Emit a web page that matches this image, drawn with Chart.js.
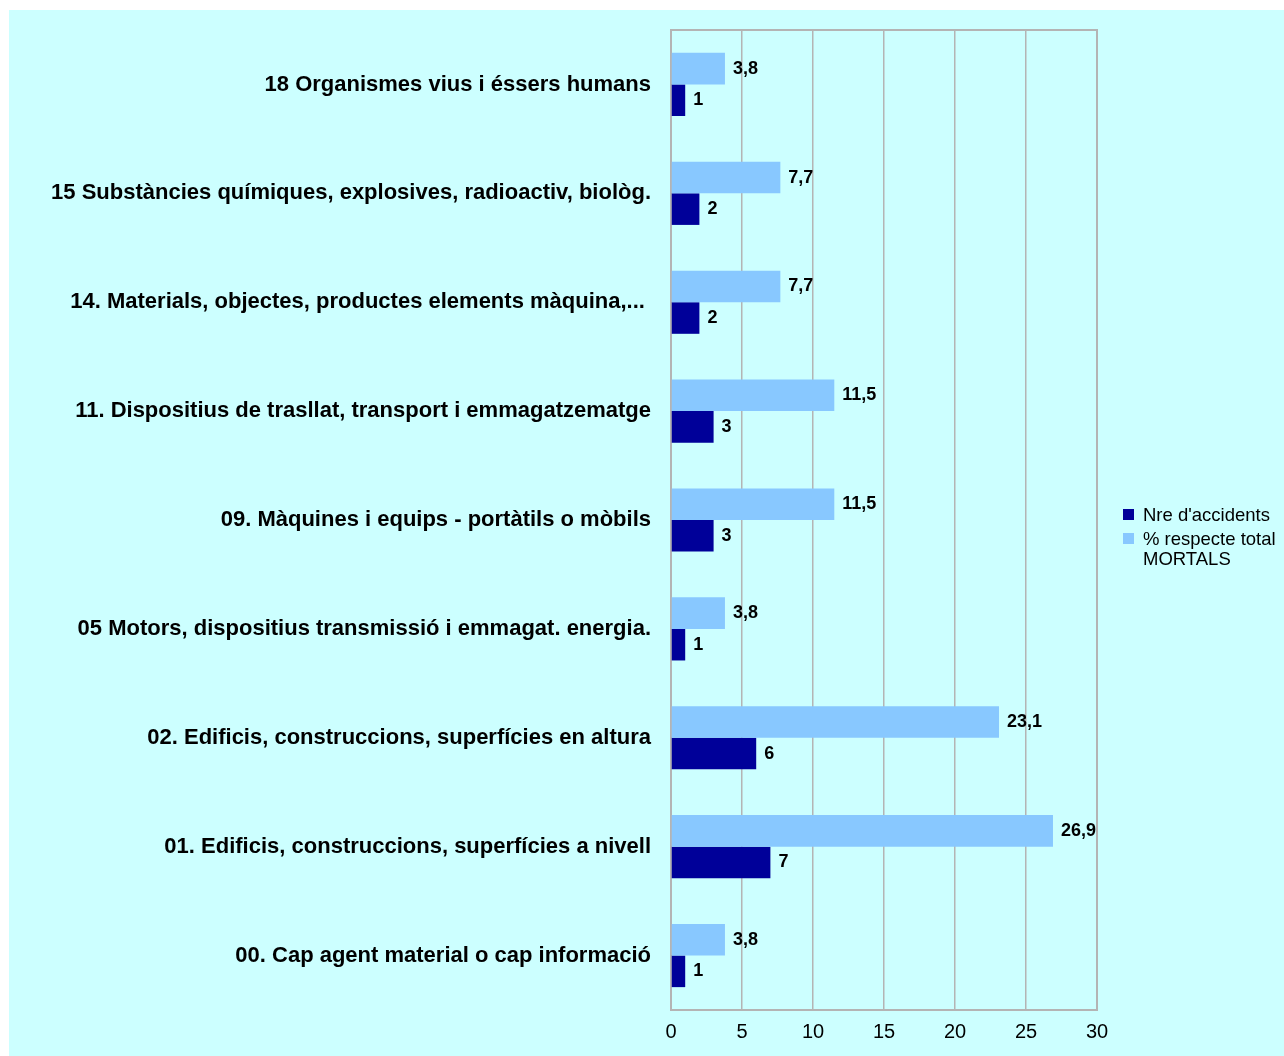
<!DOCTYPE html>
<html lang="ca">
<head>
    <meta charset="UTF-8">
    <title>Accidents mortals per agent material</title>
    <script src="https://cdn.jsdelivr.net/npm/chart.js@4/dist/chart.umd.min.js"></script>
    <style>
        body {
            margin: 0;
            background: #ffffff;
            font-family: 'Liberation Sans', Arial, sans-serif;
        }
        .panel {
            position: absolute;
            left: 9px;
            top: 10px;
            width: 1275px;
            height: 1046px;
            background: #ccffff;
        }
        .legend {
            position: absolute;
            left: 1114px;
            top: 495px;
            font-size: 18.5px;
            line-height: 20px;
            color: #000;
        }
        .legend-item {
            display: flex;
            align-items: flex-start;
            margin-bottom: 4px;
        }
        .legend-box {
            width: 11px;
            height: 11px;
            margin: 4px 9px 0 0;
            flex: none;
        }
        .legend-text {
            width: 140px;
        }
    </style>
</head>
<body>
    <div class="panel">
        <canvas id="chart"></canvas>
        <div class="legend" id="legend"></div>
    </div>

    <script>
        const categories = [
            '18 Organismes vius i éssers humans',
            '15 Substàncies químiques, explosives, radioactiv, biològ.',
            '14. Materials, objectes, productes elements màquina,... ',
            '11. Dispositius de trasllat, transport i emmagatzematge',
            '09. Màquines i equips - portàtils o mòbils',
            '05 Motors, dispositius transmissió i emmagat. energia.',
            '02. Edificis, construccions, superfícies en altura',
            '01. Edificis, construccions, superfícies a nivell',
            '00. Cap agent material o cap informació'
        ];
        const nreAccidents = [1, 2, 2, 3, 3, 1, 6, 7, 1];
        const pctMortals = [3.8, 7.7, 7.7, 11.5, 11.5, 3.8, 23.1, 26.9, 3.8];
        const xTicks = [0, 5, 10, 15, 20, 25, 30];

        const FONT = "'Liberation Sans', Arial, sans-serif";

        // value labels next to each bar, decimal comma
        const valueLabels = {
            id: 'valueLabels',
            afterDatasetsDraw(chart) {
                const ctx = chart.ctx;
                ctx.save();
                ctx.font = 'bold 18px ' + FONT;
                ctx.fillStyle = '#000';
                ctx.textAlign = 'left';
                ctx.textBaseline = 'middle';
                chart.data.datasets.forEach((ds, i) => {
                    chart.getDatasetMeta(i).data.forEach((bar, j) => {
                        const txt = String(ds.data[j]).replace('.', ',');
                        ctx.fillText(txt, bar.x + 8, bar.y);
                    });
                });
                ctx.restore();
            }
        };

        // grey frame round the plot area
        const plotFrame = {
            id: 'plotFrame',
            beforeDatasetsDraw(chart) {
                const a = chart.chartArea;
                const ctx = chart.ctx;
                ctx.save();
                ctx.strokeStyle = '#b4b4b4';
                ctx.lineWidth = 2;
                ctx.strokeRect(a.left, a.top, a.right - a.left, a.bottom - a.top);
                ctx.restore();
            }
        };

        const datasets = [
            {
                label: '% respecte total MORTALS',
                data: pctMortals,
                backgroundColor: '#88c8ff'
            },
            {
                label: "Nre d'accidents",
                data: nreAccidents,
                backgroundColor: '#000099'
            }
        ];

        new Chart(document.getElementById('chart'), {
            type: 'bar',
            data: { labels: categories, datasets: datasets },
            plugins: [plotFrame, valueLabels],
            options: {
                indexAxis: 'y',
                responsive: true,
                maintainAspectRatio: false,
                animation: false,
                layout: { padding: { top: 20, right: 187, bottom: 0, left: 0 } },
                datasets: {
                    bar: { categoryPercentage: 0.58, barPercentage: 1.0 }
                },
                plugins: {
                    legend: { display: false },
                    tooltip: { enabled: false }
                },
                scales: {
                    x: {
                        min: 0,
                        max: 30,
                        afterBuildTicks: scale => {
                            scale.ticks = xTicks.map(v => ({ value: v }));
                        },
                        afterFit: scale => {
                            scale.height = 46;
                            scale.paddingLeft = 0;
                            scale.paddingRight = 0;
                        },
                        grid: {
                            color: '#b4b4b4',
                            lineWidth: 1.5,
                            drawTicks: false
                        },
                        border: { display: false },
                        ticks: {
                            padding: 10,
                            color: '#000',
                            font: { family: FONT, size: 20 }
                        }
                    },
                    y: {
                        afterFit: scale => {
                            scale.width = 662;
                            scale.paddingTop = 0;
                            scale.paddingBottom = 0;
                        },
                        grid: { display: false, drawTicks: false },
                        border: { display: false },
                        ticks: {
                            padding: 20,
                            color: '#000',
                            font: { family: FONT, size: 22, weight: 'bold' }
                        }
                    }
                }
            }
        });

        // legend: Nre first, then %
        const legendEl = document.getElementById('legend');
        [datasets[1], datasets[0]].forEach(ds => {
            const item = document.createElement('div');
            item.className = 'legend-item';
            item.innerHTML = '<div class="legend-box" style="background:' + ds.backgroundColor + '"></div>' +
                '<div class="legend-text">' + ds.label + '</div>';
            legendEl.appendChild(item);
        });
    </script>
</body>
</html>
